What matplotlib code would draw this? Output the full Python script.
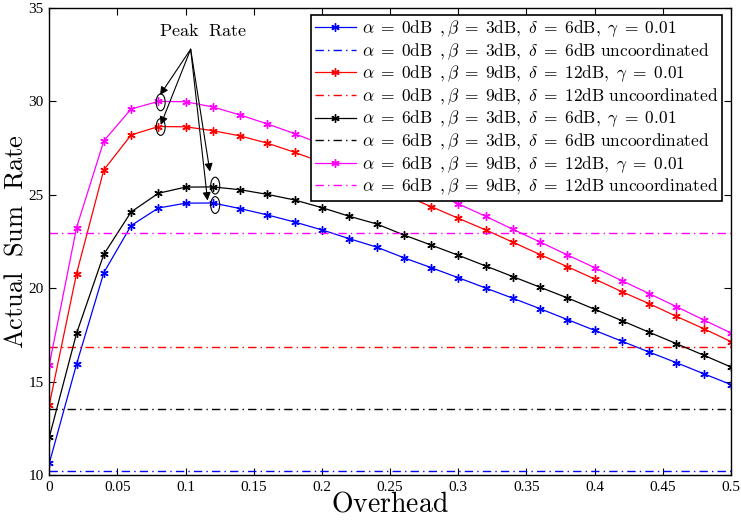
import matplotlib
matplotlib.use("Agg")
import matplotlib.pyplot as plt
from matplotlib.patches import Ellipse

plt.rcParams['mathtext.fontset'] = 'cm'
plt.rcParams['font.family'] = ['Liberation Serif', 'DejaVu Serif']

# overhead grid
overhead = [0.00, 0.02, 0.04, 0.06, 0.08, 0.10, 0.12, 0.14, 0.16, 0.18, 0.20, 0.22, 0.24,
            0.26, 0.28, 0.30, 0.32, 0.34, 0.36, 0.38, 0.40, 0.42, 0.44, 0.46, 0.48, 0.50]

# coordinated sum rate, gamma = 0.01
rate_a0_b3 = [10.63, 15.93, 20.83, 23.35, 24.29, 24.55, 24.56, 24.26, 23.92, 23.54, 23.12, 22.65, 22.20,
              21.63, 21.10, 20.56, 20.01, 19.46, 18.90, 18.32, 17.74, 17.16, 16.58, 16.01, 15.42, 14.84]
rate_a0_b9 = [13.75, 20.78, 26.33, 28.20, 28.65, 28.64, 28.43, 28.15, 27.76, 27.27, 26.74, 26.18, 25.60,
              24.99, 24.37, 23.74, 23.12, 22.46, 21.80, 21.15, 20.49, 19.81, 19.17, 18.49, 17.83, 17.14]
rate_a6_b3 = [12.02, 17.58, 21.81, 24.08, 25.08, 25.41, 25.42, 25.27, 25.02, 24.72, 24.31, 23.85, 23.44,
              22.85, 22.31, 21.76, 21.19, 20.62, 20.05, 19.48, 18.87, 18.26, 17.64, 17.03, 16.41, 15.78]
rate_a6_b9 = [15.89, 23.24, 27.88, 29.59, 30.00, 29.98, 29.70, 29.27, 28.79, 28.27, 27.70, 27.12, 26.50,
              25.86, 25.19, 24.51, 23.85, 23.15, 22.47, 21.78, 21.10, 20.40, 19.71, 19.01, 18.30, 17.60]

# uncoordinated baselines
uncoord = [10.22, 16.84, 13.53, 22.94]

colors = ['blue', 'red', 'black', 'magenta']
params = [('0', '3', '6'), ('0', '9', '12'), ('6', '3', '6'), ('6', '9', '12')]
series = [rate_a0_b3, rate_a0_b9, rate_a6_b3, rate_a6_b9]


def legend_text(a, b, d, tail):
    return (r'$\alpha\;=\;%s\mathrm{dB}\ \,,\beta\;=\;%s\mathrm{dB},\ \delta\;=\;%s\mathrm{dB}%s$'
            % (a, b, d, tail))


fig = plt.figure(figsize=(7.41, 5.23), dpi=100)
ax = fig.add_axes([0.0665, 0.0918, 0.92, 0.893])

for ys, base, c, (a, b, d) in zip(series, uncoord, colors, params):
    ax.plot(overhead, ys, color=c, lw=0.9, marker=(6, 2, 0), ms=6, mew=1.0,
            label=legend_text(a, b, d, r',\ \gamma\;=\;0.01'))
    ax.plot([overhead[0], overhead[-1]], [base, base], color=c, lw=1.0,
            ls=(0, (6, 3, 1, 3)), label=legend_text(a, b, d, r'\ \mathrm{uncoordinated}'))

# peak markers
peaks = [(0.0817, 29.95), (0.0817, 28.63), (0.1217, 25.49), (0.1217, 24.45)]
for px, py in peaks:
    ax.add_patch(Ellipse((px, py), 0.0066, 0.9, fill=False, ec='black', lw=0.8, zorder=5))

heads = [(0.0812, 30.34), (0.0817, 28.74), (0.1178, 26.24), (0.1161, 24.69)]
for hx, hy in heads:
    ax.annotate('', xy=(hx, hy), xytext=(0.1037, 32.79),
                arrowprops=dict(arrowstyle='-|>', color='black', lw=0.8,
                                mutation_scale=12, shrinkA=0, shrinkB=0))
ax.text(0.1127, 33.72, r'$\mathrm{Peak\ \ Rate}$', ha='center', va='center', fontsize=13)

ax.set_xlim(0, 0.5)
ax.set_ylim(10, 35)
ax.set_xticks([0, 0.05, 0.1, 0.15, 0.2, 0.25, 0.3, 0.35, 0.4, 0.45, 0.5])
ax.set_xticklabels(['0', '0.05', '0.1', '0.15', '0.2', '0.25', '0.3', '0.35', '0.4', '0.45', '0.5'])
ax.set_yticks([10, 15, 20, 25, 30, 35])
ax.tick_params(direction='in', top=True, right=True, labelsize=11, length=5, width=0.8, pad=4)
for s in ax.spines.values():
    s.set_linewidth(1.0)

ax.set_xlabel(r'$\mathrm{Overhead}$', fontsize=20, labelpad=-1)
ax.set_ylabel(r'$\mathrm{Actual\ \ Sum\ \ Rate}$', fontsize=19, labelpad=1)

leg = ax.legend(loc='upper right', bbox_to_anchor=(0.987, 0.985), fontsize=12.5,
                frameon=True, fancybox=False, edgecolor='black', framealpha=1,
                handlelength=2.4, handletextpad=0.35, borderpad=0.2, labelspacing=0.12,
                borderaxespad=0)
leg.get_frame().set_linewidth(1.2)

fig.savefig('out.png', dpi=100)
